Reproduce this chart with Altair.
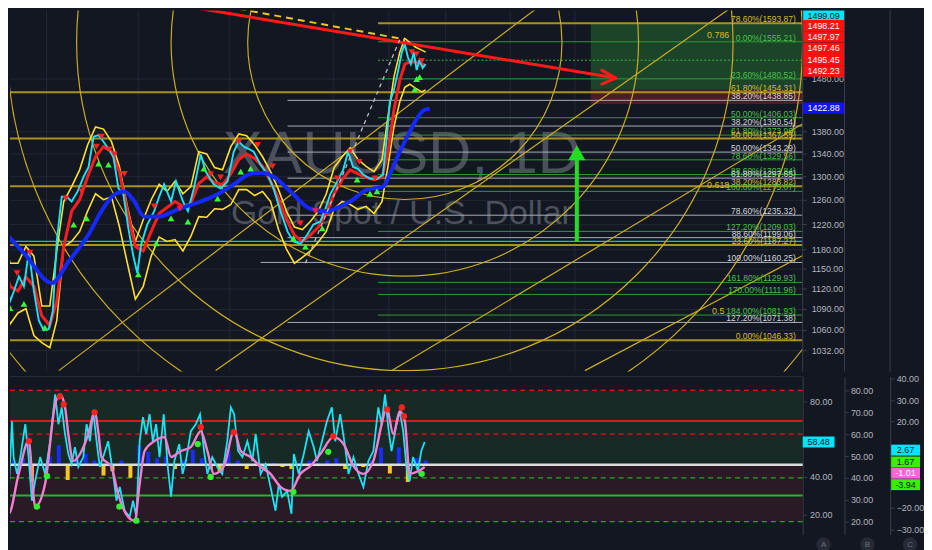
import math
import altair as alt
import pandas as pd

# ====================== DATA ======================
YEAR_TICKS = [2016, 2017, 2018, 2019, 2019.583, 2020, 2020.5, 2021]
YEAR_LABELS = ["2016", "2017", "2018", "2019", "8", "2020", "Jul", "2021"]

PRICE_TICKS = [1032, 1060, 1090, 1120, 1150, 1180, 1220, 1260, 1300, 1340, 1380, 1480]

price_t = [2015.516, 2015.559, 2015.603, 2015.646, 2015.700, 2015.754, 2015.809, 2015.863, 2015.917, 2015.971,
           2016.025, 2016.069, 2016.112, 2016.166, 2016.220, 2016.274, 2016.339, 2016.404, 2016.459, 2016.513,
           2016.567, 2016.621, 2016.675, 2016.729, 2016.784, 2016.838, 2016.892, 2016.946, 2016.989, 2017.033,
           2017.098, 2017.174, 2017.228, 2017.282, 2017.358, 2017.412, 2017.488, 2017.542, 2017.607, 2017.683,
           2017.737, 2017.824, 2017.899, 2017.975, 2018.038, 2018.087, 2018.135, 2018.183, 2018.231, 2018.298,
           2018.365, 2018.423, 2018.490, 2018.558, 2018.615, 2018.683, 2018.750, 2018.808, 2018.875, 2018.923,
           2018.971, 2019.042, 2019.104, 2019.156, 2019.208, 2019.260, 2019.313, 2019.385, 2019.458, 2019.521,
           2019.563, 2019.590, 2019.620, 2019.649, 2019.678, 2019.700, 2019.722, 2019.744, 2019.766, 2019.787,
           2019.809, 2019.831, 2019.853]
price_close = [1178, 1132, 1102, 1117, 1139, 1124, 1178, 1117, 1074, 1060,
               1062, 1088, 1193, 1266, 1266, 1258, 1275, 1300, 1317, 1371,
               1374, 1362, 1349, 1335, 1280, 1270, 1214, 1170, 1144, 1189,
               1220, 1242, 1266, 1287, 1258, 1292, 1258, 1242, 1280, 1339,
               1309, 1287, 1280, 1292, 1344, 1362, 1353, 1349, 1344, 1321,
               1304, 1280, 1242, 1209, 1193, 1189, 1204, 1220, 1225, 1245,
               1270, 1292, 1312, 1344, 1317, 1314, 1304, 1297, 1296, 1304,
               1374, 1436, 1459, 1494, 1534, 1550, 1524, 1510, 1534, 1498,
               1518, 1502, 1510]

band_t = [2015.516, 2015.603, 2015.689, 2015.776, 2015.863, 2015.949, 2016.036, 2016.112, 2016.188, 2016.274,
          2016.361, 2016.448, 2016.534, 2016.621, 2016.708, 2016.794, 2016.881, 2016.968, 2017.054, 2017.141,
          2017.228, 2017.314, 2017.401, 2017.488, 2017.574, 2017.661, 2017.748, 2017.834, 2017.921, 2018.010,
          2018.087, 2018.163, 2018.240, 2018.317, 2018.394, 2018.471, 2018.548, 2018.625, 2018.702, 2018.779,
          2018.856, 2018.933, 2019.010, 2019.094, 2019.177, 2019.260, 2019.344, 2019.427, 2019.511, 2019.573,
          2019.620, 2019.663, 2019.700, 2019.736, 2019.780, 2019.824, 2019.853]
band_upper = [1209, 1159, 1159, 1185, 1170, 1095, 1095, 1178, 1258, 1283,
              1312, 1356, 1389, 1385, 1362, 1318, 1250, 1193, 1228, 1261,
              1287, 1275, 1292, 1271, 1283, 1344, 1340, 1316, 1312, 1353,
              1376, 1373, 1356, 1335, 1309, 1278, 1242, 1216, 1212, 1225,
              1242, 1271, 1316, 1335, 1351, 1330, 1318, 1309, 1330, 1408,
              1484, 1534, 1562, 1554, 1544, 1538, 1534]
band_lower = [1117, 1069, 1085, 1091, 1053, 1043, 1036, 1074, 1185, 1193,
              1209, 1242, 1271, 1261, 1266, 1217, 1159, 1105, 1124, 1170,
              1200, 1193, 1196, 1178, 1201, 1233, 1232, 1246, 1245, 1253,
              1278, 1278, 1268, 1275, 1258, 1212, 1181, 1159, 1168, 1178,
              1192, 1209, 1246, 1258, 1253, 1245, 1250, 1238, 1258, 1318,
              1389, 1436, 1464, 1470, 1462, 1455, 1459]
ema_fast = [1170, 1124, 1117, 1138, 1124, 1081, 1067, 1102, 1185, 1242,
            1261, 1300, 1335, 1353, 1344, 1309, 1242, 1185, 1178, 1209,
            1238, 1248, 1258, 1250, 1255, 1288, 1300, 1290, 1287, 1305,
            1330, 1340, 1332, 1318, 1292, 1263, 1228, 1203, 1193, 1203,
            1216, 1238, 1271, 1295, 1312, 1305, 1299, 1295, 1299, 1344,
            1421, 1478, 1510, 1514, 1514, 1510, 1506]

sma_t = [2015.516, 2015.765, 2016.058, 2016.242, 2016.458, 2016.599, 2016.740, 2016.849, 2016.957, 2017.065,
         2017.217, 2017.434, 2017.683, 2017.867, 2018.038, 2018.202, 2018.317, 2018.423, 2018.587, 2018.779,
         2018.942, 2019.073, 2019.177, 2019.354, 2019.521, 2019.590, 2019.663, 2019.736, 2019.787, 2019.846,
         2019.882]
sma_slow = [1212, 1173, 1129, 1162, 1204, 1242, 1270, 1275, 1258, 1233,
            1233, 1245, 1258, 1270, 1287, 1305, 1307, 1300, 1275, 1246,
            1242, 1250, 1258, 1278, 1283, 1305, 1344, 1380, 1404, 1421,
            1423]

sell_t = [2015.679, 2015.819, 2016.209, 2016.383, 2016.545, 2016.599, 2016.686, 2016.740, 2016.849, 2017.174,
          2017.455, 2017.791, 2017.899, 2018.087, 2018.269, 2018.413, 2018.683, 2018.827, 2019.042, 2019.177,
          2019.271, 2019.438, 2019.751, 2019.787, 2019.824]
sell_p = [1144, 1175, 1263, 1275, 1353, 1371, 1348, 1339, 1305, 1250,
          1246, 1304, 1299, 1362, 1356, 1318, 1222, 1242, 1297, 1344,
          1326, 1297, 1534, 1530, 1516]
buy_t = [2015.603, 2015.754, 2015.982, 2016.296, 2016.437, 2016.567, 2016.675, 2017.000, 2017.196, 2017.358,
         2017.542, 2017.716, 2017.867, 2018.106, 2018.202, 2018.615, 2018.731, 2018.894, 2019.250, 2019.385,
         2019.458, 2019.773, 2019.809, 2019.787]
buy_p = [1092, 1098, 1064, 1220, 1230, 1323, 1321, 1142, 1190, 1230,
         1225, 1314, 1263, 1309, 1314, 1198, 1185, 1214, 1295, 1271,
         1275, 1460, 1484, 1480]

fib_price = [1593.87, 1555.21, 1480.52, 1454.31, 1438.85, 1406.03, 1390.54, 1373.96, 1367.55, 1343.29,
             1329.56, 1303.84, 1297.65, 1283.82, 1275.07, 1235.32, 1209.03, 1199.06, 1187.27, 1160.25,
             1129.93, 1111.96, 1081.93, 1071.38, 1046.33]
fib_label = ["78.60%(1593.87)", "0.00%(1555.21)", "23.60%(1480.52)", "61.80%(1454.31)", "38.20%(1438.85)",
             "50.00%(1406.03)", "38.20%(1390.54)", "61.80%(1373.96)", "50.00%(1367.55)", "50.00%(1343.29)",
             "78.60%(1329.56)", "88.60%(1303.84)", "61.80%(1297.65)", "38.20%(1283.82)", "100.00%(1275.07)",
             "78.60%(1235.32)", "127.20%(1209.03)", "88.60%(1199.06)", "23.60%(1187.27)", "100.00%(1160.25)",
             "161.80%(1129.93)", "170.00%(1111.96)", "184.00%(1081.93)", "127.20%(1071.38)", "0.00%(1046.33)"]
fib_set = ["y", "g", "g", "y", "w", "g", "w", "g", "y", "w",
           "g", "g", "w", "y", "g", "w", "g", "w", "y", "w",
           "g", "g", "g", "w", "y"]
fib_from = [2019.469, 2019.469, 2019.469, 2015.3, 2018.558, 2019.469, 2018.558, 2019.469, 2015.3, 2018.558,
            2019.469, 2019.469, 2018.558, 2015.3, 2019.469, 2018.558, 2019.469, 2018.558, 2015.3, 2018.298,
            2019.469, 2019.469, 2019.469, 2018.558, 2015.3]
ratio_text = ["0.786", "0.618", "0.5"]
ratio_price = [1568.6, 1286.6, 1088.0]

support_price = [1193.0]
dotted_price = [1517.6]

circle_center_t = 2019.700
circle_center_p = 1554.0
fan_t1 = [2016.134, 2017.845, 2019.605, 2021.077]
fan_p1 = [1005, 1005, 1005, 1005]
fan_t2 = [2020.762, 2022.262, 2022.762, 2022.762]
fan_p2 = [1638, 1638, 1395, 1171]
trend_t = [2017.271, 2021.315]
trend_p = [1638.5, 1482.0]
arrow_arm_t = [2021.208, 2021.208]
arrow_arm_p = [1497.7, 1470.3]
ydash_t = [2017.845, 2019.700]
ydash_p = [1634.0, 1560.0]
wdash_t = [2018.731, 2019.663]
wdash_p = [1159.0, 1560.0]
up_arrow_t = 2021.015
up_arrow_p = [1193.0, 1342.0]
box_t0 = 2021.123
box_target, box_entry, box_stop = 1594.0, 1459.0, 1432.0

rbox_text = ["1499.09", "1498.21", "1497.97", "1497.46", "1495.45", "1492.23", "1422.88"]
rbox_pos = [1609.1, 1589.0, 1565.3, 1541.8, 1518.8, 1496.1, 1424.0]
rbox_kind = ["cyan", "red", "red", "red", "red", "red", "blue"]

# ---------------- lower pane ----------------
osc_t = [2015.516, 2015.552, 2015.588, 2015.624, 2015.642, 2015.679, 2015.715, 2015.769, 2015.805, 2015.841,
         2015.877, 2015.931, 2015.985, 2016.040, 2016.094, 2016.130, 2016.166, 2016.202, 2016.238, 2016.274,
         2016.310, 2016.347, 2016.401, 2016.437, 2016.473, 2016.509, 2016.545, 2016.581, 2016.617, 2016.672,
         2016.726, 2016.762, 2016.798, 2016.852, 2016.906, 2016.943, 2016.979, 2017.015, 2017.051, 2017.087,
         2017.123, 2017.159, 2017.195, 2017.232, 2017.278, 2017.322, 2017.358, 2017.394, 2017.448, 2017.484,
         2017.520, 2017.574, 2017.629, 2017.675, 2017.719, 2017.755, 2017.809, 2017.863, 2017.917, 2017.972,
         2018.010, 2018.042, 2018.080, 2018.122, 2018.170, 2018.218, 2018.250, 2018.298, 2018.346, 2018.394,
         2018.442, 2018.474, 2018.506, 2018.554, 2018.596, 2018.619, 2018.667, 2018.715, 2018.763, 2018.811,
         2018.843, 2018.891, 2018.939, 2018.987, 2019.021, 2019.073, 2019.125, 2019.160, 2019.212, 2019.264,
         2019.316, 2019.368, 2019.420, 2019.472, 2019.507, 2019.542, 2019.576, 2019.602, 2019.639, 2019.663,
         2019.688, 2019.712, 2019.736, 2019.760, 2019.797, 2019.821, 2019.846]
osc_v = [41.6, 16.8, 31.1, 69.5, 50.5, 41.6, 50.5, 67.9, 50.5, 27.4,
         37.9, 50.5, 41.6, 58.9, 83.7, 67.9, 76.8, 62.6, 52.1, 46.8,
         55.8, 45.3, 50.5, 67.9, 58.9, 74.7, 58.9, 45.3, 50.5, 58.9,
         41.6, 27.4, 34.7, 22.1, 18.9, 27.4, 18.9, 58.9, 71.6, 62.6,
         73.2, 58.9, 67.9, 50.5, 73.2, 45.3, 29.5, 48.4, 57.4, 41.6,
         48.4, 64.2, 67.9, 73.2, 53.7, 41.6, 50.5, 45.3, 41.6, 58.9,
         76.8, 73.2, 53.7, 50.5, 58.9, 48.4, 62.6, 41.6, 46.8, 34.7,
         22.1, 36.3, 29.5, 32.6, 20.5, 52.1, 41.6, 52.1, 64.2, 55.8,
         48.4, 58.9, 69.5, 76.8, 58.9, 73.2, 55.8, 41.6, 50.5, 41.6,
         34.7, 48.4, 53.7, 76.8, 67.9, 83.7, 66.3, 53.7, 67.9, 74.7,
         64.2, 45.3, 37.9, 50.5, 43.2, 53.7, 58.5]

sig_t = [2015.516, 2015.588, 2015.697, 2015.805, 2015.877, 2015.985, 2016.094, 2016.148, 2016.202, 2016.238,
         2016.292, 2016.383, 2016.455, 2016.527, 2016.563, 2016.599, 2016.708, 2016.780, 2016.888, 2016.960,
         2017.015, 2017.069, 2017.177, 2017.286, 2017.358, 2017.466, 2017.574, 2017.683, 2017.755, 2017.827,
         2017.936, 2018.042, 2018.106, 2018.202, 2018.298, 2018.394, 2018.490, 2018.587, 2018.683, 2018.779,
         2018.875, 2019.003, 2019.108, 2019.212, 2019.316, 2019.420, 2019.507, 2019.559, 2019.615, 2019.663,
         2019.700, 2019.736, 2019.797, 2019.846]
sig_v = [-8.8, -22.7, -4.2, 11.0, -19.4, -8.8, 28.0, 32.6, 26.6, 14.2,
         1.8, 6.4, 14.2, 24.8, 15.6, 3.6, -1.0, -13.5, -24.1, -25.9,
         -8.8, 6.4, 11.0, 12.8, 3.6, 6.4, 8.2, 15.6, 6.4, -4.2,
         -0.6, 15.6, 6.4, 3.6, -1.0, -4.2, -10.2, -12.1, -4.2, -0.6,
         5.0, 12.8, 9.6, -0.6, -4.2, 1.8, 18.8, 26.6, 14.2, 24.8,
         20.2, -4.2, -3.0, -1.0]

hist_t = [2015.548, 2015.646, 2015.743, 2015.841, 2015.939, 2016.036, 2016.134, 2016.231, 2016.329, 2016.426,
          2016.524, 2016.621, 2016.719, 2016.816, 2016.914, 2017.011, 2017.109, 2017.206, 2017.304, 2017.401,
          2017.499, 2017.596, 2017.694, 2017.791, 2017.889, 2017.986, 2018.077, 2018.163, 2018.250, 2018.337,
          2018.423, 2018.510, 2018.596, 2018.683, 2018.769, 2018.856, 2018.942, 2019.031, 2019.125, 2019.219,
          2019.313, 2019.406, 2019.500, 2019.590, 2019.656, 2019.722, 2019.787, 2019.853]
hist_v = [-6, 2, 3, -8, 1, 4, 9, -7, 3, 5,
          2, -5, -3, 2, -6, 9, 6, 3, 4, -2,
          2, 7, 3, -2, -3, 7, 2, -2, 1, -2,
          1, -1, -2, 1, 2, 1, 2, 3, -2, 1,
          -1, 2, 8, -4, 8, -8, 3, 2]

dot_red_t = [2015.809, 2016.144, 2016.188, 2016.524, 2017.683, 2018.038, 2019.000, 2019.563, 2019.678, 2019.693]
dot_red_v = [11.0, 31.7, 28.0, 24.3, 17.4, 15.1, 13.3, 25.7, 26.6, 22.5]
dot_green_t = [2015.570, 2015.895, 2016.004, 2016.794, 2016.979, 2017.650, 2017.791, 2018.615, 2018.952, 2019.824]
dot_green_v = [-22.7, -19.4, -5.2, -19.4, -25.9, 9.6, -5.6, -12.5, 6.0, -4.2]

A_TICKS = [20, 40, 80]
B_TICKS = [20, 30, 40, 50, 60, 70, 80]
C_TICKS = [-30, -20, 20, 30, 40]
B_LEVELS = [80, 66, 60, 40, 32, 20]
B_LEVEL_KIND = ["red_dash", "red", "red_dash", "green_dash", "green", "green_dash"]
B_ZONE_LO = [45.5, 20]
B_ZONE_HI = [80, 45.5]
osc_last_text, osc_last = "58.48", 58.48
cbox_text = ["2.67", "1.67", "-1.01", "-3.94"]
cbox_pos = [6.8, 1.3, -3.9, -9.2]
cbox_kind = ["cyan", "green", "pink", "green"]
pane_letters = ["A", "B", "C"]

# ====================== LAYOUT / STYLE ======================
BG = "#131722"
FONT = "Liberation Sans"
GRID = "#232733"
AXC = "#3a3e4a"
TXT = "#b2b5be"
PLOT_W, MAIN_H, LOW_H = 797, 363, 159
X_KNOTS_T = [2016, 2017, 2018, 2019, 2019.583, 2020, 2021]
X_KNOTS_PX = [36.7, 129, 221, 325, 381, 438, 568]
T_LEFT = 2015.3
T_RIGHT = 2022.762
T_LABEL = 2022.708
T_RATIO = 2022.108
T_TICK_END = 2022.793
T_PRICE_LABEL = 2022.831
T_SEPS = [2022.762, 2023.085, 2023.438]
T_COL_A = (2022.762, 2023.085)
T_COL_A_LOW = (2022.762, 2023.008)
T_COL_C = (2023.446, 2023.669)
T_LETTERS = [2022.923, 2023.262, 2023.592]
MAIN_DOMAIN = [1003.8, 1621.2]
A_DOMAIN = [9.47, 93.16]
B_DOMAIN = [14.09, 86.36]
C_DOMAIN = [-32.35, 40.92]
CIRCLE_R_PX = [158, 235, 330, 400, 505]
WM_T, WM_P = 2019.678, [1338.0, 1237.0]
WM_SIZES = [60, 34]

PX_PER_LN = MAIN_H / math.log(MAIN_DOMAIN[1] / MAIN_DOMAIN[0])
C_PX_PER_UNIT = LOW_H / (C_DOMAIN[1] - C_DOMAIN[0])
A_PX_PER_UNIT = LOW_H / (A_DOMAIN[1] - A_DOMAIN[0])

FIB_LINE = {"g": "#2f9a36", "w": "#a9adb6", "y": "#a8921f"}
FIB_TEXT = {"g": "#4cc04c", "w": "#d1d4dc", "y": "#d6bd2e"}
FIB_W = {"g": 1, "w": 1, "y": 2}
BOX_FILL = {"cyan": "#00e5ff", "red": "#ff1010", "blue": "#1010ff", "green": "#37f000", "pink": "#ff66d4"}
BOX_TXT = {"cyan": "#131722", "red": "#ffffff", "blue": "#ffffff", "green": "#131722", "pink": "#ffffff"}
LVL_COLOR = {"red_dash": "#e01818", "red": "#e01818", "green_dash": "#26a526", "green": "#26b526"}
DRAW_YEL = "#c9ad22"

XS = alt.Scale(domain=X_KNOTS_T, range=X_KNOTS_PX)
YS = alt.Scale(type="log", domain=MAIN_DOMAIN, nice=False, zero=False)


def X(f="t", axis=None):
    return alt.X(f"{f}:Q", scale=XS, axis=axis, title=None)


def Y(f="p", axis=None, scale=YS):
    return alt.Y(f"{f}:Q", scale=scale, axis=axis, title=None)


label_expr = " : ".join(f"datum.value == {v} ? '{l}'" for v, l in zip(YEAR_TICKS, YEAR_LABELS)) + " : ''"

# ====================== MAIN PANE ======================
df_vg = pd.DataFrame({"t": YEAR_TICKS})
L_vgrid = alt.Chart(df_vg).mark_rule(color=GRID, strokeWidth=1).encode(x=X())
df_hg = pd.DataFrame({"p": PRICE_TICKS})
df_hg["t"] = T_LEFT
df_hg["t2"] = T_RIGHT
df_hg["te"] = T_TICK_END
df_hg["tl"] = T_PRICE_LABEL
df_hg["lab"] = [f"{v:.2f}" for v in PRICE_TICKS]
L_hgrid = alt.Chart(df_hg).mark_rule(color=GRID, strokeWidth=1, clip=True).encode(
    x=X(), x2=alt.X2("t2"), y=Y())
L_ptick = alt.Chart(df_hg).mark_rule(color=AXC, strokeWidth=1).encode(x=X("t2"), x2=alt.X2("te"), y=Y())
L_plab = alt.Chart(df_hg).mark_text(align="left", baseline="middle", font=FONT, fontSize=9, color=TXT).encode(
    x=X("tl"), y=Y(), text="lab:N")

df_box = pd.DataFrame({"t": [box_t0, box_t0], "t2": [T_RIGHT, T_RIGHT],
                       "p": [box_entry, box_stop], "p2": [box_target, box_entry],
                       "c": ["#1b4428", "#4d1c27"]})
L_box = alt.Chart(df_box).mark_rect().encode(
    x=X(), x2=alt.X2("t2"), y=Y(), y2=alt.Y2("p2"), color=alt.Color("c:N", scale=None))

df_wm = pd.DataFrame({"t": [WM_T, WM_T], "p": WM_P, "s": ["XAUUSD, 1D", "Gold Spot / U.S. Dollar"],
                      "fs": WM_SIZES})
L_wm = alt.Chart(df_wm).mark_text(font=FONT, color="#4c505c").encode(
    x=X(), y=Y(), text="s:N", size=alt.Size("fs:Q", scale=None))

df_fib = pd.DataFrame({"p": fib_price, "t": fib_from, "label": fib_label, "set": fib_set})
df_fib["t2"] = T_RIGHT
df_fib["lx"] = T_LABEL
df_fib["lc"] = df_fib["set"].map(FIB_LINE)
df_fib["tc"] = df_fib["set"].map(FIB_TEXT)
df_fib["w"] = df_fib["set"].map(FIB_W)
L_fib = alt.Chart(df_fib).mark_rule(clip=True).encode(
    x=X(), x2=alt.X2("t2"), y=Y(), color=alt.Color("lc:N", scale=None),
    strokeWidth=alt.StrokeWidth("w:Q", scale=None))
L_fibtxt = alt.Chart(df_fib).mark_text(align="right", baseline="bottom", font=FONT, fontSize=8.5, dy=1).encode(
    x=X("lx"), y=Y(), text="label:N", color=alt.Color("tc:N", scale=None))

df_sup = pd.DataFrame({"t": [T_LEFT], "t2": [T_RIGHT], "p": support_price})
L_sup = alt.Chart(df_sup).mark_rule(color="#17b8d4", strokeWidth=1.3, clip=True).encode(
    x=X(), x2=alt.X2("t2"), y=Y())
df_dot = pd.DataFrame({"t": [2019.469], "t2": [T_RIGHT], "p": dotted_price})
L_dotl = alt.Chart(df_dot).mark_rule(color="#3fb83f", strokeWidth=1, strokeDash=[2, 2]).encode(
    x=X(), x2=alt.X2("t2"), y=Y())

df_circ = pd.DataFrame({"t": [circle_center_t] * len(CIRCLE_R_PX), "p": [circle_center_p] * len(CIRCLE_R_PX),
                        "s": [(2 * r) ** 2 for r in CIRCLE_R_PX]})
L_circ = alt.Chart(df_circ).mark_point(shape="circle", filled=False, clip=True, opacity=1,
                                       strokeWidth=1.2, color=DRAW_YEL).encode(
    x=X(), y=Y(), size=alt.Size("s:Q", scale=None))

df_fan = pd.DataFrame({"t": fan_t1, "p": fan_p1, "t2": fan_t2, "p2": fan_p2})
L_fan = alt.Chart(df_fan).mark_rule(clip=True, color=DRAW_YEL, strokeWidth=1.2).encode(
    x=X(), y=Y(), x2=alt.X2("t2"), y2=alt.Y2("p2"))

df_px = pd.DataFrame({"t": price_t, "p": price_close})
df_band = pd.DataFrame({"t": band_t, "up": band_upper, "lo": band_lower, "ema": ema_fast})
df_sma = pd.DataFrame({"t": sma_t, "p": sma_slow})
L_up = alt.Chart(df_band).mark_line(color="#ffe02a", strokeWidth=1.6, clip=True).encode(x=X(), y=Y("up"))
L_lo = alt.Chart(df_band).mark_line(color="#ffe02a", strokeWidth=1.6, clip=True).encode(x=X(), y=Y("lo"))
L_ema = alt.Chart(df_band).mark_line(color="#ff1c1c", strokeWidth=3, clip=True).encode(x=X(), y=Y("ema"))
L_px = alt.Chart(df_px).mark_line(color="#19e3f5", strokeWidth=1.9, clip=True).encode(x=X(), y=Y())
L_sma = alt.Chart(df_sma).mark_line(color="#1428ff", strokeWidth=4, interpolate="monotone", clip=True).encode(
    x=X(), y=Y())

df_sell = pd.DataFrame({"t": sell_t, "p": sell_p})
df_buy = pd.DataFrame({"t": buy_t, "p": buy_p})
L_sell = alt.Chart(df_sell).mark_point(shape="triangle-down", filled=True, size=45, opacity=1, clip=True,
                                       color="#ff2222").encode(x=X(), y=Y())
L_buy = alt.Chart(df_buy).mark_point(shape="triangle-up", filled=True, size=45, opacity=1, clip=True,
                                     color="#33ff33").encode(x=X(), y=Y())

df_tr = pd.DataFrame({"t": [trend_t[0], trend_t[1], trend_t[1]], "p": [trend_p[0], trend_p[1], trend_p[1]],
                      "t2": [trend_t[1], arrow_arm_t[0], arrow_arm_t[1]],
                      "p2": [trend_p[1], arrow_arm_p[0], arrow_arm_p[1]]})
L_tr = alt.Chart(df_tr).mark_rule(color="#ff1a1a", strokeWidth=3, clip=True, strokeCap="round").encode(
    x=X(), y=Y(), x2=alt.X2("t2"), y2=alt.Y2("p2"))
df_yd = pd.DataFrame({"t": [ydash_t[0]], "p": [ydash_p[0]], "t2": [ydash_t[1]], "p2": [ydash_p[1]]})
L_yd = alt.Chart(df_yd).mark_rule(color="#e8c81c", strokeWidth=2, strokeDash=[7, 5], clip=True).encode(
    x=X(), y=Y(), x2=alt.X2("t2"), y2=alt.Y2("p2"))
df_wd = pd.DataFrame({"t": [wdash_t[0]], "p": [wdash_p[0]], "t2": [wdash_t[1]], "p2": [wdash_p[1]]})
L_wd = alt.Chart(df_wd).mark_rule(color="#b8bbc4", strokeWidth=1.3, strokeDash=[4, 4], clip=True).encode(
    x=X(), y=Y(), x2=alt.X2("t2"), y2=alt.Y2("p2"))

df_ga = pd.DataFrame({"t": [up_arrow_t], "p": [up_arrow_p[0]], "p2": [up_arrow_p[1]]})
L_ga = alt.Chart(df_ga).mark_rule(color="#22dd22", strokeWidth=4).encode(x=X(), y=Y(), y2=alt.Y2("p2"))
df_gh = pd.DataFrame({"t": [up_arrow_t], "p": [up_arrow_p[1]]})
L_gh = alt.Chart(df_gh).mark_point(shape="triangle-up", filled=True, size=300, opacity=1,
                                   color="#22dd22").encode(x=X(), y=Y())

df_ratio = pd.DataFrame({"t": [T_RATIO] * 3, "p": ratio_price, "s": ratio_text})
L_ratio = alt.Chart(df_ratio).mark_text(font=FONT, fontSize=9, color="#d6bd2e").encode(
    x=X(), y=Y(), text="s:N")

kb = math.exp(5.7 / PX_PER_LN)
df_rb = pd.DataFrame({"s": rbox_text, "p": rbox_pos, "k": rbox_kind})
df_rb["p_lo"] = df_rb["p"] / kb
df_rb["p_hi"] = df_rb["p"] * kb
df_rb["t"] = T_COL_A[0]
df_rb["t2"] = T_COL_A[1]
df_rb["tm"] = (T_COL_A[0] + T_COL_A[1]) / 2
df_rb["fill"] = df_rb["k"].map(BOX_FILL)
df_rb["tc"] = df_rb["k"].map(BOX_TXT)
L_rb = alt.Chart(df_rb).mark_rect().encode(
    x=X("t"), x2=alt.X2("t2"), y=Y("p_lo"), y2=alt.Y2("p_hi"), color=alt.Color("fill:N", scale=None))
L_rbt = alt.Chart(df_rb).mark_text(font=FONT, fontSize=9).encode(
    x=X("tm"), y=Y("p"), text="s:N", color=alt.Color("tc:N", scale=None))

df_sep = pd.DataFrame({"t": T_SEPS})
L_sep = alt.Chart(df_sep).mark_rule(color=AXC, strokeWidth=1).encode(x=X())

main = alt.layer(L_vgrid, L_hgrid, L_box, L_wm, L_fib, L_sup, L_dotl, L_circ, L_fan, L_up, L_lo, L_ema, L_px,
                 L_sma, L_sell, L_buy, L_tr, L_yd, L_wd, L_ga, L_gh, L_fibtxt, L_ratio, L_ptick, L_plab,
                 L_rb, L_rbt, L_sep
                 ).properties(width=PLOT_W, height=MAIN_H)

# ====================== LOWER PANE ======================
AS = alt.Scale(domain=A_DOMAIN, nice=False, zero=False)
BS = alt.Scale(domain=B_DOMAIN, nice=False, zero=False)
CS = alt.Scale(domain=C_DOMAIN, nice=False, zero=False)

low_xaxis = alt.Axis(values=YEAR_TICKS, labelExpr=label_expr, grid=True, gridColor=GRID, labelColor=TXT,
                     labelFont=FONT, labelFontSize=9, labelFontWeight="bold", tickColor=AXC, tickSize=4,
                     domainColor=AXC, labelPadding=3, labelOverlap=False, labelFlush=False)
ax_a = alt.Axis(orient="right", values=A_TICKS, format=".2f", grid=False, labelColor=TXT, labelFont=FONT,
                labelFontSize=9, tickColor=AXC, tickSize=4, labelPadding=3, domainColor=AXC)
ax_b = alt.Axis(orient="right", offset=42, values=B_TICKS, format=".2f", grid=False, labelColor=TXT,
                labelFont=FONT, labelFontSize=9, tickColor=AXC, tickSize=4, labelPadding=2, domainColor=AXC)
ax_c = alt.Axis(orient="right", offset=88, values=C_TICKS, format=".2f", grid=False, labelColor=TXT,
                labelFont=FONT, labelFontSize=9, tickColor=AXC, tickSize=4, labelPadding=2, domainColor=AXC)

df_zone = pd.DataFrame({"lo": B_ZONE_LO, "hi": B_ZONE_HI, "c": ["#172a26", "#2a1a26"],
                        "t": [T_LEFT, T_LEFT], "t2": [T_RIGHT, T_RIGHT]})
K_zone = alt.Chart(df_zone).mark_rect(clip=True).encode(
    x=X("t", low_xaxis), x2=alt.X2("t2"), y=Y("lo", ax_b, BS), y2=alt.Y2("hi"),
    color=alt.Color("c:N", scale=None))

df_lvl = pd.DataFrame({"b": B_LEVELS, "k": B_LEVEL_KIND})
df_lvl["c"] = df_lvl["k"].map(LVL_COLOR)
solid = df_lvl[~df_lvl["k"].str.endswith("dash")]
dashed = df_lvl[df_lvl["k"].str.endswith("dash")]
K_solid = alt.Chart(solid).mark_rule(strokeWidth=2).encode(
    y=Y("b", None, BS), color=alt.Color("c:N", scale=None))
K_dash = alt.Chart(dashed).mark_rule(strokeWidth=1.2, strokeDash=[5, 4]).encode(
    y=Y("b", None, BS), color=alt.Color("c:N", scale=None))

df_hist = pd.DataFrame({"t": hist_t, "v": hist_v})
df_hist["z"] = 0
df_hist["c"] = ["#1a2cff" if v > 0 else "#f7c818" for v in hist_v]
K_hist = alt.Chart(df_hist).mark_rule(strokeWidth=4, clip=True).encode(
    x=X(), y=Y("z", ax_c, CS), y2=alt.Y2("v"), color=alt.Color("c:N", scale=None))
K_zero = alt.Chart(pd.DataFrame({"z": [0]})).mark_rule(color="#dcdcdc", strokeWidth=2.5).encode(
    y=Y("z", None, CS))

df_osc = pd.DataFrame({"t": osc_t, "v": osc_v})
K_osc = alt.Chart(df_osc).mark_line(color="#19e3f5", strokeWidth=1.8, clip=True).encode(
    x=X(), y=Y("v", ax_a, AS))

df_sig = pd.DataFrame({"t": sig_t, "v": sig_v})
K_sig = alt.Chart(df_sig).mark_line(color="#f77fd2", strokeWidth=2.4, interpolate="monotone", clip=True).encode(
    x=X(), y=Y("v", None, CS))

df_dr = pd.DataFrame({"t": dot_red_t, "v": dot_red_v})
df_dg = pd.DataFrame({"t": dot_green_t, "v": dot_green_v})
K_dr = alt.Chart(df_dr).mark_circle(size=40, opacity=1, color="#ff2020", clip=True).encode(
    x=X(), y=Y("v", None, CS))
K_dg = alt.Chart(df_dg).mark_circle(size=40, opacity=1, color="#33ee33", clip=True).encode(
    x=X(), y=Y("v", None, CS))

ha = 5.5 / A_PX_PER_UNIT
df_ab = pd.DataFrame({"s": [osc_last_text], "v": [osc_last]})
df_ab["lo"], df_ab["hi"] = df_ab["v"] - ha, df_ab["v"] + ha
df_ab["t"], df_ab["t2"] = T_COL_A_LOW
df_ab["tm"] = sum(T_COL_A_LOW) / 2
K_ab = alt.Chart(df_ab).mark_rect(color=BOX_FILL["cyan"]).encode(
    x=X(), x2=alt.X2("t2"), y=Y("lo", None, AS), y2=alt.Y2("hi"))
K_abt = alt.Chart(df_ab).mark_text(font=FONT, fontSize=9, color=BOX_TXT["cyan"]).encode(
    x=X("tm"), y=Y("v", None, AS), text="s:N")

hc = 5.5 / C_PX_PER_UNIT
df_cb = pd.DataFrame({"s": cbox_text, "v": cbox_pos, "k": cbox_kind})
df_cb["lo"], df_cb["hi"] = df_cb["v"] - hc, df_cb["v"] + hc
df_cb["t"], df_cb["t2"] = T_COL_C
df_cb["tm"] = sum(T_COL_C) / 2
df_cb["fill"] = df_cb["k"].map(BOX_FILL)
df_cb["tc"] = df_cb["k"].map(BOX_TXT)
K_cb = alt.Chart(df_cb).mark_rect().encode(
    x=X(), x2=alt.X2("t2"), y=Y("lo", None, CS), y2=alt.Y2("hi"), color=alt.Color("fill:N", scale=None))
K_cbt = alt.Chart(df_cb).mark_text(font=FONT, fontSize=9).encode(
    x=X("tm"), y=Y("v", None, CS), text="s:N", color=alt.Color("tc:N", scale=None))

letter_v = C_DOMAIN[0] - 10 / C_PX_PER_UNIT
df_let = pd.DataFrame({"t": T_LETTERS, "v": [letter_v] * 3, "s": pane_letters})
K_letc = alt.Chart(df_let).mark_circle(size=210, opacity=1, color="#262a35").encode(
    x=X(), y=Y("v", None, CS))
K_lett = alt.Chart(df_let).mark_text(font=FONT, fontSize=8, color="#6f727c").encode(
    x=X(), y=Y("v", None, CS), text="s:N")

K_top = alt.Chart(pd.DataFrame({"z": [0]})).mark_rule(color="#2a2e39", strokeWidth=1).encode(
    y=alt.value(0))

lower = alt.layer(K_zone, K_solid, K_dash, K_hist, K_zero, K_osc, K_sig, K_dr, K_dg,
                  K_ab, K_abt, K_cb, K_cbt, K_letc, K_lett, K_top
                  ).resolve_scale(y="independent").properties(width=PLOT_W, height=LOW_H)

chart = alt.vconcat(main, lower, spacing=1).properties(
    padding=0, background=BG
).configure_view(stroke=None)

chart.save("out.html", embed_options={"renderer": "svg", "actions": False})
